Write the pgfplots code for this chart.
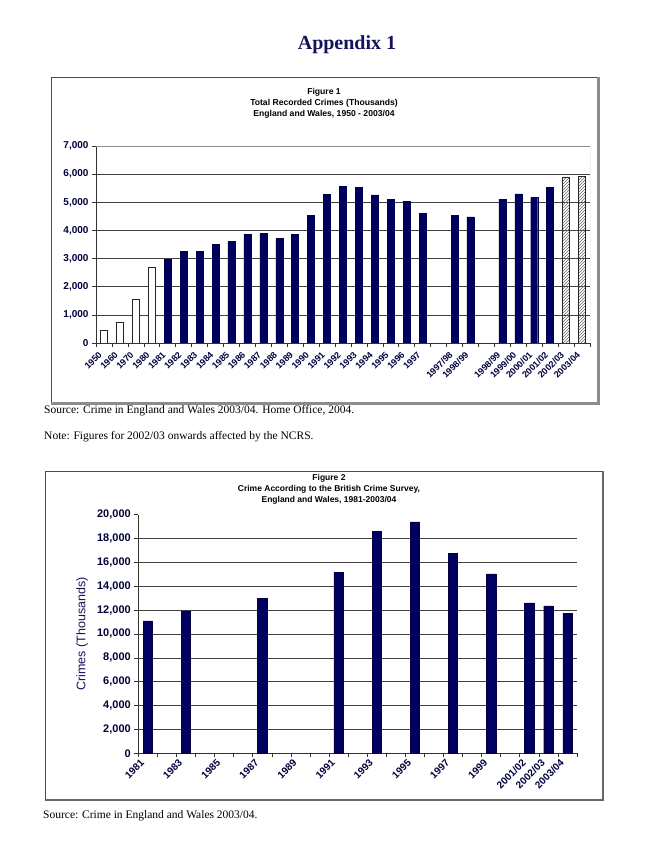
\documentclass[border=0pt]{standalone}
\usepackage{pgfplots}
\usepackage{pgfplotstable}
\pgfplotsset{compat=1.18}
\usepackage{fontspec}
\setmainfont{Liberation Serif}
\newfontfamily\arial{Liberation Sans}
\usetikzlibrary{patterns}
\definecolor{navy}{RGB}{0,0,96}
\definecolor{ticknavy}{RGB}{0,0,60}
\definecolor{headnavy}{RGB}{20,20,90}

\pgfplotstableread{
x y
0 460
1 720
2 1560
3 2690
}\figAwhite
\pgfplotstableread{
x y
4 2960
5 3260
6 3250
7 3500
8 3610
9 3850
10 3890
11 3720
12 3870
13 4540
14 5280
15 5570
16 5520
17 5260
18 5100
19 5040
20 4600
22 4540
23 4480
25 5110
26 5300
27 5170
28 5530
}\figAdark
\pgfplotstableread{
x y
29 5900
30 5930
}\figAhatch
\pgfplotstableread{
x y
0 11100
2 11900
6 13000
10 15150
12 18600
14 19400
16 16750
18 15050
20 12600
21 12350
22 11750
}\figB

\begin{document}
\begin{tikzpicture}[x=1pt,y=1pt]
\path[use as bounding box] (0,0) rectangle (650,852);

% page title
\node[font=\bfseries\fontsize{20}{24}\selectfont, text=headnavy] at (347,807) {Appendix 1};

% frame of figure 1
\draw[black!70, line width=0.8pt] (51,449) -- (51,775) -- (597,775);
\draw[black!45, line width=2.5pt] (598.5,775) -- (598.5,448.5) -- (50.6,448.5);
\node[font=\arial\bfseries\fontsize{8.6}{11}\selectfont, align=center, anchor=north, inner sep=0pt]
  at (324,764) {Figure 1\\Total Recorded Crimes (Thousands)\\England and Wales, 1950 - 2003/04};

\begin{axis}[
  at={(96pt,509pt)}, anchor=south west,
  scale only axis, width=494pt, height=197pt,
  xmin=-0.5, xmax=30.5, ymin=0, ymax=7000,
  enlargelimits=false,
  ybar, bar width=0.44, bar shift=0pt,
  axis x line*=bottom, axis y line*=left,
  axis line style={black!80, line width=0.8pt},
  ytick={0,1000,...,7000},
  scaled y ticks=false,
  ymajorgrids, grid style={black!75, line width=0.6pt},
  xtick={0,...,20,22,23,25,26,27,28,29,30},
  xticklabels={1950,1960,1970,1980,1981,1982,1983,1984,1985,1986,1987,1988,1989,1990,1991,1992,1993,1994,1995,1996,1997,1997/98,1998/99,1998/99,1999/00,2000/01,2001/02,2002/03,2003/04},
  major x tick style={draw=none},
  minor xtick={-0.5,0.5,...,30.5},
  tick align=outside, major tick length=4pt, minor tick length=4pt,
  tick style={black!80, line width=0.6pt},
  yticklabel style={font=\arial\bfseries\fontsize{10}{12}\selectfont, text=ticknavy},
  xticklabel style={font=\arial\bfseries\fontsize{9}{10}\selectfont, text=ticknavy, xshift=-6pt, yshift=-4pt, rotate=45, anchor=north east, inner sep=0pt},
  /pgf/number format/1000 sep={,},
  /pgf/number format/assume math mode=true,
]
\addplot[fill=white, draw=black!85, line width=0.5pt] table[x=x,y=y] {\figAwhite};
\addplot[fill=navy, draw=navy!70!black, line width=0.4pt] table[x=x,y=y] {\figAdark};
\addplot[draw=black!85, line width=0.5pt, pattern=north east lines, pattern color=black!60] table[x=x,y=y] {\figAhatch};
\draw[black!45, line width=0.8pt] (rel axis cs:0,1) -- (rel axis cs:1,1) -- (rel axis cs:1,0);
\end{axis}

\node[anchor=west, inner sep=0pt, font=\fontsize{11.5}{13}\selectfont] at (44,441) {Source: Crime in England and Wales 2003/04. Home Office, 2004.};
\node[anchor=west, inner sep=0pt, font=\fontsize{11.5}{13}\selectfont] at (44,415) {Note: Figures for 2002/03 onwards affected by the NCRS.};

% frame of figure 2
\draw[black!70, line width=0.8pt] (45.5,52) -- (45.5,380.5) -- (602,380.5);
\draw[black!60, line width=2.2pt] (603,380.5) -- (603,52) -- (45,52);
\node[font=\arial\bfseries\fontsize{8.5}{11}\selectfont, align=center, anchor=north, inner sep=0pt]
  at (329,378) {Figure 2\\Crime According to the British Crime Survey,\\England and Wales, 1981-2003/04};

\begin{axis}[
  at={(138.3pt,98.7pt)}, anchor=south west,
  scale only axis, width=438.7pt, height=238.6pt,
  xmin=-0.5, xmax=22.5, ymin=0, ymax=20000,
  enlargelimits=false,
  ybar, bar width=0.49, bar shift=0pt,
  axis x line*=bottom, axis y line*=left,
  axis line style={black!80, line width=0.8pt},
  ytick={0,2000,...,20000},
  scaled y ticks=false,
  extra y ticks={2000,4000,...,18000},
  extra y tick labels={},
  extra y tick style={grid=major},
  grid style={black!75, line width=0.6pt},
  xtick={0,2,...,18,20,21,22},
  xticklabels={1981,1983,1985,1987,1989,1991,1993,1995,1997,1999,2001/02,2002/03,2003/04},
  major x tick style={draw=none},
  minor xtick={-0.5,0.5,...,22.5},
  tick align=outside, major tick length=4pt, minor tick length=4pt,
  tick style={black!80, line width=0.6pt},
  yticklabel style={font=\arial\bfseries\fontsize{11}{13}\selectfont, text=ticknavy},
  xticklabel style={font=\arial\bfseries\fontsize{10}{11}\selectfont, text=ticknavy, xshift=-8pt, yshift=-1pt, rotate=45, anchor=north east, inner sep=0pt},
  ylabel={Crimes (Thousands)},
  ylabel style={at={(axis description cs:-0.128,0.5)}, anchor=center, font=\arial\fontsize{12.5}{14}\selectfont, text=headnavy},
  /pgf/number format/1000 sep={,},
  /pgf/number format/assume math mode=true,
]
\addplot[fill=navy, draw=navy!70!black, line width=0.4pt] table[x=x,y=y] {\figB};
\end{axis}

\node[anchor=west, inner sep=0pt, font=\fontsize{11.5}{13}\selectfont] at (43,36) {Source: Crime in England and Wales 2003/04.};
\end{tikzpicture}
\end{document}
